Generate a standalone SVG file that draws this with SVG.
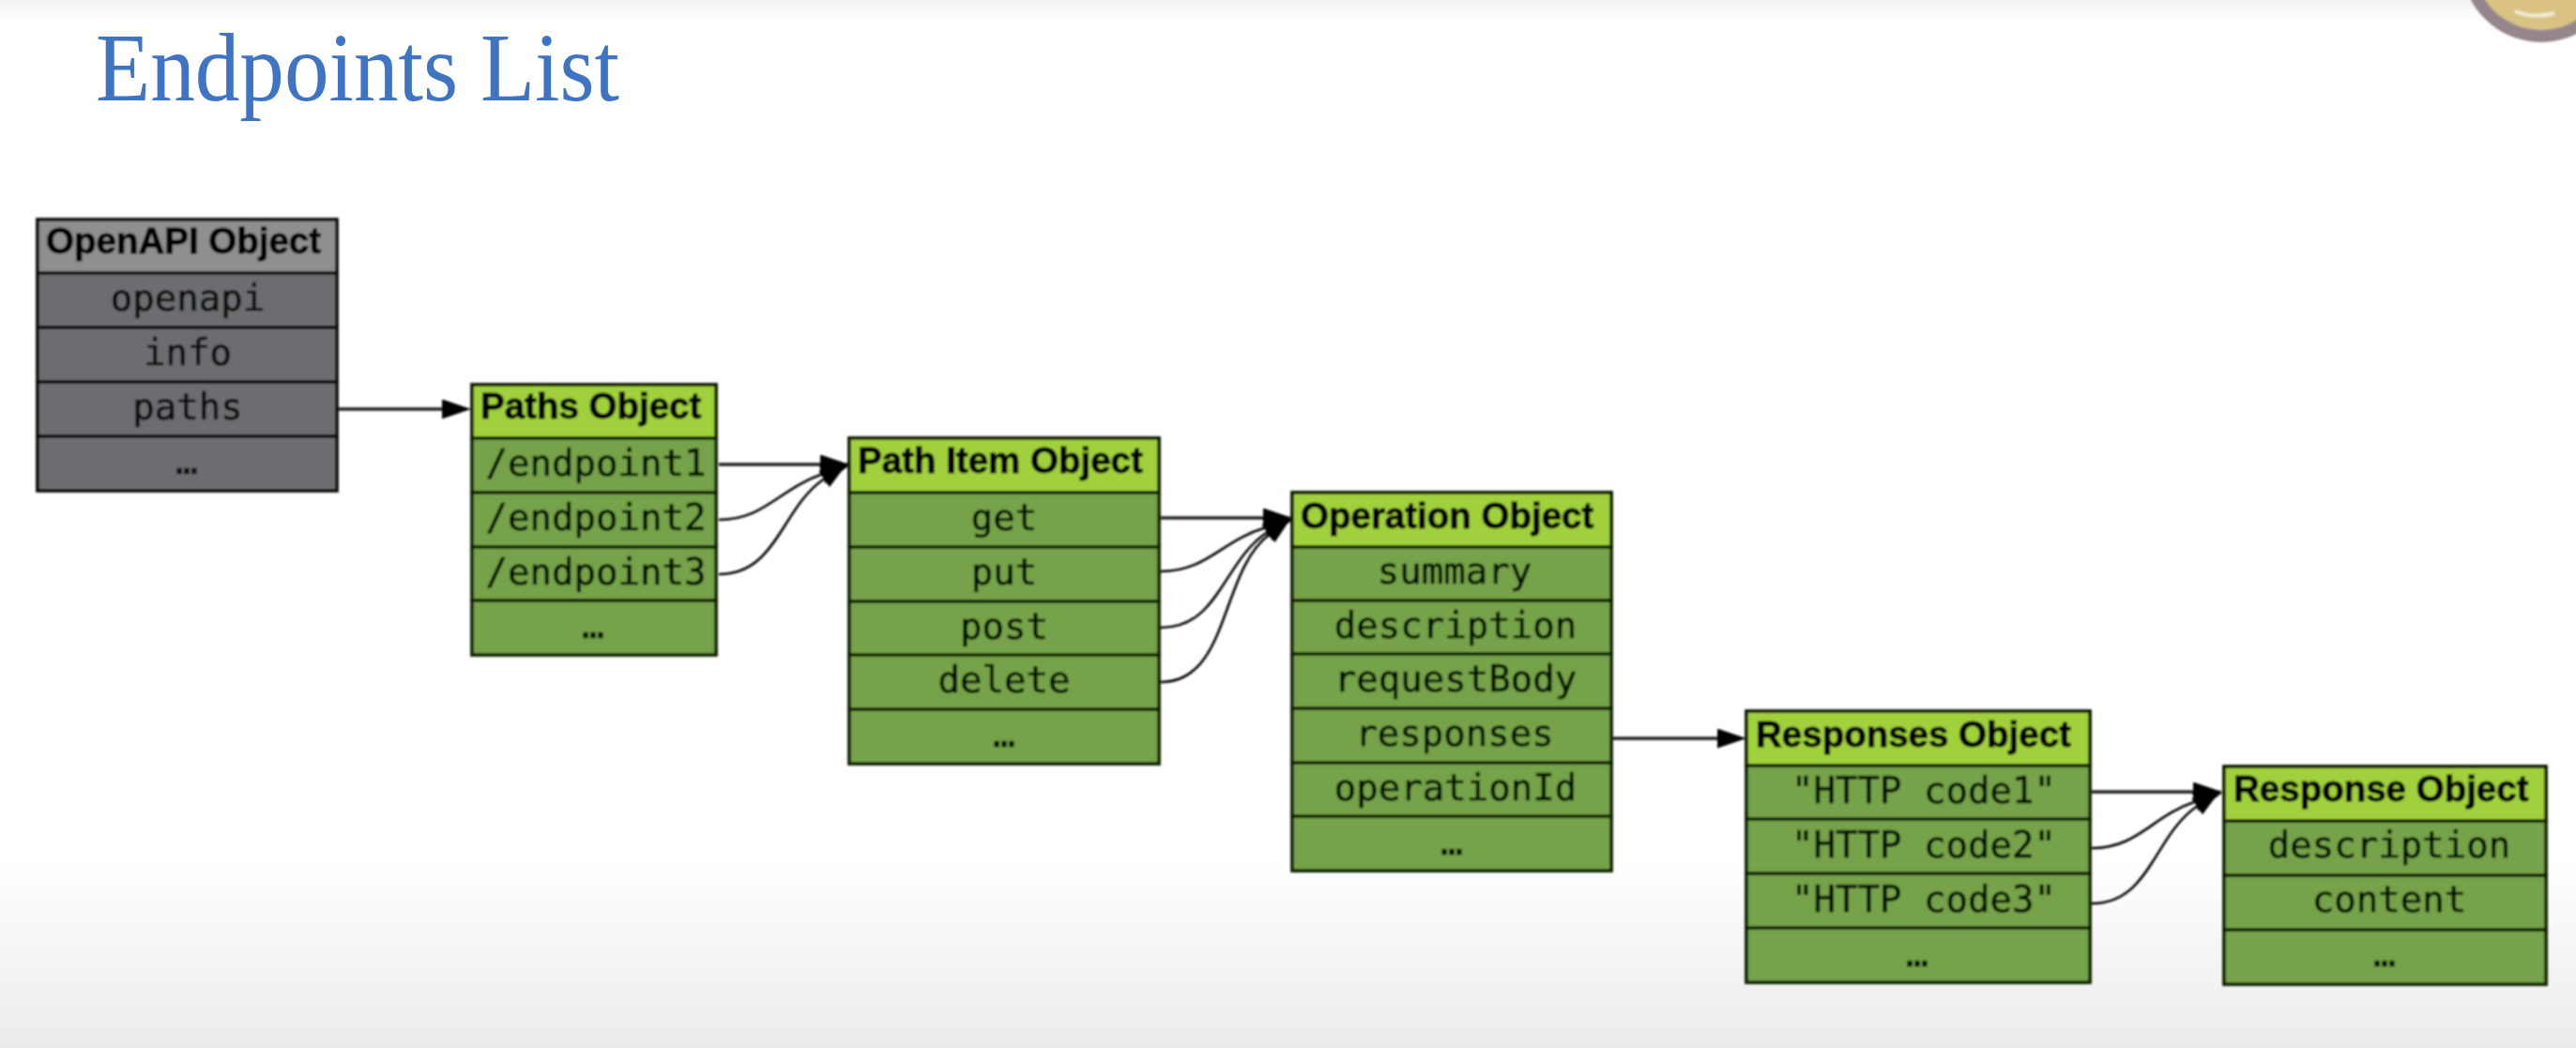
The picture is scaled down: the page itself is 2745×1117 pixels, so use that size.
<svg xmlns="http://www.w3.org/2000/svg" width="2745" height="1117" viewBox="0 0 2745 1117">
<defs>
<style>
.h{font-family:"Liberation Sans",Arial,sans-serif;font-weight:700;font-size:38.5px;fill:#000;stroke:#000;stroke-width:0.9px}
.t{font-family:"DejaVu Sans Mono","Liberation Mono",monospace;font-size:39px;text-anchor:middle;fill:#061405;stroke:#061405;stroke-width:0.7px}
.g .t{fill:#08090b;stroke:#08090b}
.hd{fill:#a0d13d;stroke:#0e1a06;stroke-width:3.8}
.rw{fill:#76a34a;stroke:#0a2206;stroke-width:3.8}
.g .hd{fill:#8f8f90;stroke:#0c0c0c}
.g .rw{fill:#6c6d70;stroke:#0a0a0a}
.c{fill:none;stroke:#000;stroke-width:2.6}
.s{stroke:#222;stroke-width:3.4}
</style>
<linearGradient id="bg" x1="0" y1="0" x2="0" y2="1">
<stop offset="0" stop-color="#ffffff"/><stop offset="0.82" stop-color="#ffffff"/><stop offset="1" stop-color="#ebebeb"/>
</linearGradient>
<linearGradient id="top" x1="0" y1="0" x2="0" y2="1">
<stop offset="0" stop-color="#f3f3f3"/><stop offset="1" stop-color="#ffffff"/>
</linearGradient>
<marker id="a" markerUnits="userSpaceOnUse" markerWidth="32" markerHeight="22" refX="0" refY="10.5" orient="auto">
<path d="M0,0 L31,10.5 L0,21 Z" fill="#000"/>
</marker>
<filter id="soft" x="-2%" y="-2%" width="104%" height="104%"><feGaussianBlur stdDeviation="0.8"/></filter>
</defs>
<rect width="2745" height="1117" fill="url(#bg)"/>
<rect width="2745" height="22" fill="url(#top)"/>
<g id="seal" filter="url(#soft)">
<circle cx="2708" cy="-40" r="85" fill="#95858c"/>
<circle cx="2708" cy="-40" r="72" fill="#d9c283"/>
<path d="M2680,12 Q2700,20 2722,14" fill="none" stroke="#f3ecd2" stroke-width="4"/>
</g>
<text id="title" x="102" y="107" font-family="'Liberation Serif','Times New Roman',serif" font-size="104" fill="#3f74c4" textLength="558" lengthAdjust="spacingAndGlyphs">Endpoints List</text>
<g filter="url(#soft)">
<g id="connectors">
<path class="c s" d="M360,436 H471" marker-end="url(#a)"/>
<path class="c s" d="M766,495 H874" marker-end="url(#a)"/>
<path class="c" d="M766,554 C815,554 830,521 876,505.600" marker-end="url(#a)"/>
<path class="c" d="M766,612 C828,612 832,542 878,510.500" marker-end="url(#a)"/>
<path class="c s" d="M1237,552 H1346" marker-end="url(#a)"/>
<path class="c" d="M1237,609 C1286,609 1302,576 1348,562.600" marker-end="url(#a)"/>
<path class="c" d="M1237,669 C1299,669 1303,599 1350,567.500" marker-end="url(#a)"/>
<path class="c" d="M1237,727 C1310,727 1300,610 1352,570" marker-end="url(#a)"/>
<path class="c s" d="M1719,787 H1830" marker-end="url(#a)"/>
<path class="c s" d="M2229,844 H2337" marker-end="url(#a)"/>
<path class="c" d="M2229,904 C2278,904 2293,870 2339,854.600" marker-end="url(#a)"/>
<path class="c" d="M2229,963 C2291,963 2295,891 2341,859.500" marker-end="url(#a)"/>
</g>
<g id="openapi-object" class="g">
<rect class="hd" x="40" y="234" width="319" height="57"/>
<rect class="rw" x="40" y="291" width="319" height="58"/>
<rect class="rw" x="40" y="349" width="319" height="58"/>
<rect class="rw" x="40" y="407" width="319" height="58"/>
<rect class="rw" x="40" y="465" width="319" height="58"/>
<text class="h" x="49" y="270">OpenAPI Object</text>
<text class="t" x="200" y="331">openapi</text>
<text class="t" x="200" y="389">info</text>
<text class="t" x="200" y="447">paths</text>
<text class="t" x="199" y="505">…</text>
</g>
<g id="paths-object">
<rect class="hd" x="503" y="410" width="260" height="57"/>
<rect class="rw" x="503" y="467" width="260" height="58"/>
<rect class="rw" x="503" y="525" width="260" height="58"/>
<rect class="rw" x="503" y="583" width="260" height="57"/>
<rect class="rw" x="503" y="640" width="260" height="58"/>
<text class="h" x="512" y="446">Paths Object</text>
<text class="t" x="635" y="507">/endpoint1</text>
<text class="t" x="635" y="565">/endpoint2</text>
<text class="t" x="635" y="623">/endpoint3</text>
<text class="t" x="632" y="680">…</text>
</g>
<g id="path-item-object">
<rect class="hd" x="905" y="467" width="330" height="58"/>
<rect class="rw" x="905" y="525" width="330" height="58"/>
<rect class="rw" x="905" y="583" width="330" height="58"/>
<rect class="rw" x="905" y="641" width="330" height="57"/>
<rect class="rw" x="905" y="698" width="330" height="58"/>
<rect class="rw" x="905" y="756" width="330" height="58"/>
<text class="h" x="914" y="504">Path Item Object</text>
<text class="t" x="1070" y="565">get</text>
<text class="t" x="1070" y="623">put</text>
<text class="t" x="1070" y="681">post</text>
<text class="t" x="1070" y="738">delete</text>
<text class="t" x="1070" y="796">…</text>
</g>
<g id="operation-object">
<rect class="hd" x="1377" y="525" width="340" height="58"/>
<rect class="rw" x="1377" y="583" width="340" height="57"/>
<rect class="rw" x="1377" y="640" width="340" height="57"/>
<rect class="rw" x="1377" y="697" width="340" height="58"/>
<rect class="rw" x="1377" y="755" width="340" height="58"/>
<rect class="rw" x="1377" y="813" width="340" height="57"/>
<rect class="rw" x="1377" y="870" width="340" height="58"/>
<text class="h" x="1386" y="563">Operation Object</text>
<text class="t" x="1550" y="622">summary</text>
<text class="t" x="1551" y="680">description</text>
<text class="t" x="1551" y="737">requestBody</text>
<text class="t" x="1550" y="795">responses</text>
<text class="t" x="1551" y="853">operationId</text>
<text class="t" x="1547" y="911">…</text>
</g>
<g id="responses-object">
<rect class="hd" x="1861" y="758" width="366" height="58"/>
<rect class="rw" x="1861" y="816" width="366" height="57"/>
<rect class="rw" x="1861" y="873" width="366" height="58"/>
<rect class="rw" x="1861" y="931" width="366" height="58"/>
<rect class="rw" x="1861" y="989" width="366" height="58"/>
<text class="h" x="1871" y="796">Responses Object</text>
<text class="t" x="2050" y="856">"HTTP code1"</text>
<text class="t" x="2050" y="914">"HTTP code2"</text>
<text class="t" x="2050" y="972">"HTTP code3"</text>
<text class="t" x="2043" y="1030">…</text>
</g>
<g id="response-object">
<rect class="hd" x="2370" y="817" width="343" height="58"/>
<rect class="rw" x="2370" y="875" width="343" height="58"/>
<rect class="rw" x="2370" y="933" width="343" height="58"/>
<rect class="rw" x="2370" y="991" width="343" height="58"/>
<text class="h" x="2380" y="854">Response Object</text>
<text class="t" x="2546" y="914">description</text>
<text class="t" x="2546" y="972">content</text>
<text class="t" x="2541" y="1030">…</text>
</g>
</g>
</svg>
